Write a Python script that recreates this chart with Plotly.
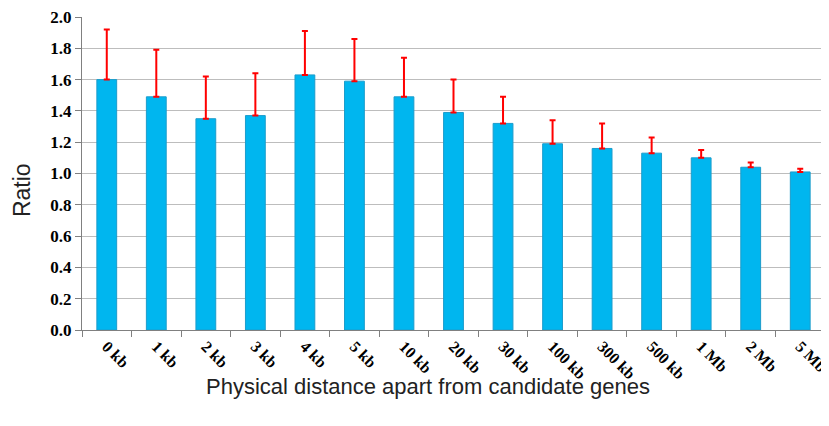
import plotly.graph_objects as go

categories = ["0 kb", "1 kb", "2 kb", "3 kb", "4 kb", "5 kb", "10 kb", "20 kb", "30 kb",
              "100 kb", "300 kb", "500 kb", "1 Mb", "2 Mb", "5 Mb"]
ratio = [1.60, 1.49, 1.35, 1.37, 1.63, 1.59, 1.49, 1.39, 1.32, 1.19, 1.16, 1.13, 1.10, 1.04, 1.01]
err_upper = [0.32, 0.30, 0.27, 0.27, 0.28, 0.27, 0.25, 0.21, 0.17, 0.15, 0.16, 0.10, 0.05, 0.03, 0.02]
y_ticks = [0.0, 0.2, 0.4, 0.6, 0.8, 1.0, 1.2, 1.4, 1.6, 1.8, 2.0]
y_tick_labels = ["0.0", "0.2", "0.4", "0.6", "0.8", "1.0", "1.2", "1.4", "1.6", "1.8", "2.0"]
x_title = "Physical distance apart from candidate genes"
y_title = "Ratio"

fig = go.Figure(go.Bar(
    x=categories, y=ratio,
    marker=dict(color="#00B6EF", line=dict(color="#1C9CCB", width=1)),
    width=0.4,
    error_y=dict(type="data", symmetric=False, array=err_upper,
                 arrayminus=[0] * len(ratio), color="#FF0000", thickness=2, width=3),
))

# page body has an 8px default margin, so the figure is sized/offset to match the window
fig.update_layout(
    width=821, height=418,
    margin=dict(l=74, r=4, t=9, b=96),
    plot_bgcolor="white", paper_bgcolor="white",
    showlegend=False,
    xaxis=dict(
        type="category", tickangle=45, tickson="boundaries", automargin=False,
        ticks="outside", ticklen=6, tickcolor="#808080",
        showline=True, linecolor="#808080", linewidth=1,
        tickfont=dict(family="Liberation Serif", size=16, color="black", weight="bold"),
        ticklabeloverflow="allow",
        showgrid=False,
    ),
    yaxis=dict(
        range=[0, 2.0], tickvals=y_ticks, ticktext=y_tick_labels, automargin=False,
        ticks="outside", ticklen=6, tickcolor="#808080",
        showline=True, linecolor="#808080", linewidth=1,
        showgrid=True, gridcolor="#BDBDBD", gridwidth=1,
        tickfont=dict(family="Liberation Serif", size=17, color="black", weight="bold"),
        ticklabeloverflow="allow",
        zeroline=False,
    ),
    annotations=[
        dict(text=x_title, xref="paper", yref="paper", x=0.4657, y=-0.179,
             xanchor="center", yanchor="middle", showarrow=False,
             font=dict(family="Liberation Sans", size=22, color="#222")),
        dict(text=y_title, xref="paper", yref="paper", x=-0.0808, y=0.447,
             xanchor="center", yanchor="middle", showarrow=False, textangle=-90,
             font=dict(family="Liberation Sans", size=23, color="#222")),
    ],
)

fig.write_html("out.html")
